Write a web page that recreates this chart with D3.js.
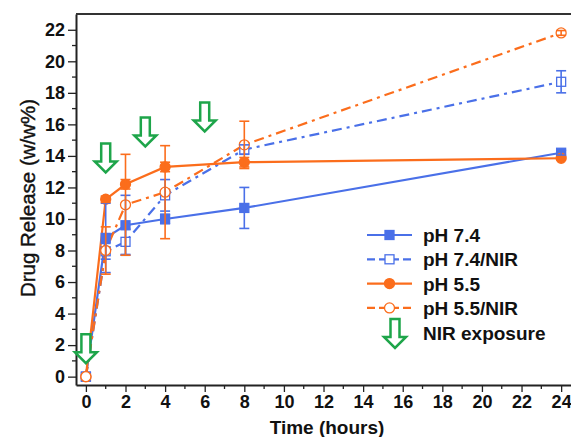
<html>
<head>
<style>
  body { margin: 0; background: #fff; }
  text { font-family: "Liberation Sans", Arial, sans-serif; }
</style>
<script src="https://d3js.org/d3.v7.min.js"></script>
</head>
<body>
<svg width="571" height="437"></svg>
<script>
// data
var hours = [0, 1, 2, 4, 8, 24];
var ph74 = [0, 8.8, 9.6, 10.0, 10.7, 14.2];
var ph74Err = [0, 2.2, 1.9, 0.3, 1.3, 0.15];
var ph74nir = [0, 7.95, 8.55, 11.5, 14.4, 18.7];
var ph74nirErr = [0, 0.5, 0.8, 1.0, 0.3, 0.7];
var ph55 = [0, 11.25, 12.2, 13.3, 13.6, 13.85];
var ph55Err = [0, 0.2, 0.3, 0.3, 0.3, 0.1];
var ph55nir = [0, 8.0, 10.9, 11.7, 14.7, 21.8];
var ph55nirErr = [0, 1.5, 3.2, 2.95, 1.5, 0.15];
var nirTimes = [0, 1, 3, 6];
var nirTips = [0.85, 12.95, 14.6, 15.55];
var xTicks = d3.range(0, 25, 2);
var yTicks = d3.range(0, 23, 2);

var blue = "#4a70e8", orange = "#fb6d1c", green = "#1ea54a";

var svg = d3.select("svg");
var mLeft = 76, mTop = 14, mRight = 575, mBottom = 385;

var x = d3.scaleLinear().domain([-0.5, 24.7]).range([mLeft, mRight]);
var y = d3.scaleLinear().domain([-0.53, 23]).range([mBottom, mTop]);

var series = [
  {name: "pH 7.4", v: ph74, e: ph74Err, c: blue, dash: null, mark: "square", fill: true},
  {name: "pH 7.4/NIR", v: ph74nir, e: ph74nirErr, c: blue, dash: "10,5,3,5", mark: "square", fill: false},
  {name: "pH 5.5", v: ph55, e: ph55Err, c: orange, dash: null, mark: "circle", fill: true},
  {name: "pH 5.5/NIR", v: ph55nir, e: ph55nirErr, c: orange, dash: "10,5,3,5", mark: "circle", fill: false}
];

// axes
var xAxis = svg.append("g").attr("transform", "translate(0," + mBottom + ")");
xAxis.call(d3.axisBottom(x).tickValues(xTicks).tickSize(7).tickPadding(3).tickSizeOuter(0));
xAxis.append("g").selectAll("line").data(d3.range(1, 24, 2)).enter().append("line")
  .attr("x1", x).attr("x2", x).attr("y1", 0).attr("y2", 4).attr("stroke", "#222").attr("stroke-width", 1.3);

var yAxis = svg.append("g").attr("transform", "translate(" + mLeft + ",0)");
yAxis.call(d3.axisLeft(y).tickValues(yTicks).tickSize(8).tickPadding(3).tickSizeOuter(0));
yAxis.append("g").selectAll("line").data(d3.range(1, 23, 2)).enter().append("line")
  .attr("y1", y).attr("y2", y).attr("x1", 0).attr("x2", -4).attr("stroke", "#222").attr("stroke-width", 1.3);

svg.selectAll(".domain").attr("stroke", "#222").attr("stroke-width", 2);
svg.selectAll(".tick line").attr("stroke", "#222").attr("stroke-width", 1.3);
svg.selectAll(".tick text").attr("font-size", "18px").attr("font-weight", "bold").attr("fill", "#111");

svg.append("line").attr("x1", mLeft).attr("x2", 571).attr("y1", mTop).attr("y2", mTop)
  .attr("stroke", "#333").attr("stroke-width", 2);

svg.append("text").attr("x", 327).attr("y", 434).attr("text-anchor", "middle")
  .attr("font-size", "19px").attr("font-weight", "bold").attr("fill", "#111").text("Time (hours)");
svg.append("text").attr("transform", "translate(35,198) rotate(-90)").attr("text-anchor", "middle")
  .attr("font-size", "20.5px").attr("fill", "#111").attr("stroke", "#111").attr("stroke-width", 0.4)
  .text("Drug Release (w/w%)");

// lines
var line = d3.line().x(function(d) { return x(d[0]); }).y(function(d) { return y(d[1]); });
var plot = svg.append("g");
var lineLayer = plot.append("g"), markLayer = plot.append("g"), errLayer = plot.append("g");

function marker(g, s, cx, cy) {
  if (s.mark == "square") {
    g.append("rect").attr("x", cx - 4.5).attr("y", cy - 4.5).attr("width", 9).attr("height", 9)
      .attr("fill", s.fill ? s.c : "#fff").attr("stroke", s.c).attr("stroke-width", 1.3);
  } else {
    g.append("circle").attr("cx", cx).attr("cy", cy).attr("r", 5)
      .attr("fill", s.fill ? s.c : "#fff").attr("stroke", s.c).attr("stroke-width", 1.3);
  }
}

series.forEach(function(s) {
  var pts = hours.map(function(h, i) { return [h, s.v[i], s.e[i]]; });
  lineLayer.append("path").attr("d", line(pts)).attr("fill", "none").attr("stroke", s.c)
    .attr("stroke-width", 2.2).attr("stroke-dasharray", s.dash);
  var eb = errLayer.append("g").attr("stroke", s.c).attr("stroke-width", 1.6);
  pts.forEach(function(p) {
    marker(markLayer, s, x(p[0]), y(p[1]));
    if (p[2] <= 0) return;
    eb.append("line").attr("x1", x(p[0])).attr("x2", x(p[0])).attr("y1", y(p[1] - p[2])).attr("y2", y(p[1] + p[2]));
    [p[1] - p[2], p[1] + p[2]].forEach(function(v) {
      eb.append("line").attr("x1", x(p[0]) - 5).attr("x2", x(p[0]) + 5).attr("y1", y(v)).attr("y2", y(v));
    });
  });
});

// NIR arrows
function arrow(g, cx, tipY) {
  var w = 22, sw = 9, hh = 11, H = 29;
  var p = [
    [cx - sw / 2, tipY - H], [cx + sw / 2, tipY - H], [cx + sw / 2, tipY - hh],
    [cx + w / 2, tipY - hh], [cx, tipY], [cx - w / 2, tipY - hh], [cx - sw / 2, tipY - hh]
  ];
  g.append("path").attr("d", "M" + p.join("L") + "Z").attr("fill", "#fff")
    .attr("stroke", green).attr("stroke-width", 2.5).attr("stroke-linejoin", "miter");
}
nirTimes.forEach(function(t, i) { arrow(svg, x(t), y(nirTips[i])); });

// legend
var lg = svg.append("g");
series.forEach(function(s, i) {
  var ly = 235 + i * 24.3;
  lg.append("line").attr("x1", 367).attr("x2", 412).attr("y1", ly).attr("y2", ly)
    .attr("stroke", s.c).attr("stroke-width", 2.2).attr("stroke-dasharray", s.dash ? "8,4" : null);
  marker(lg, s, 389.5, ly);
  lg.append("text").attr("x", 423).attr("y", ly + 7).attr("font-size", "19px").attr("font-weight", "bold")
    .attr("fill", "#111").text(s.name);
});
arrow(lg, 395, 348);
lg.append("text").attr("x", 423).attr("y", 340).attr("font-size", "19px").attr("font-weight", "bold")
  .attr("fill", "#111").text("NIR exposure");
</script>
</body>
</html>
